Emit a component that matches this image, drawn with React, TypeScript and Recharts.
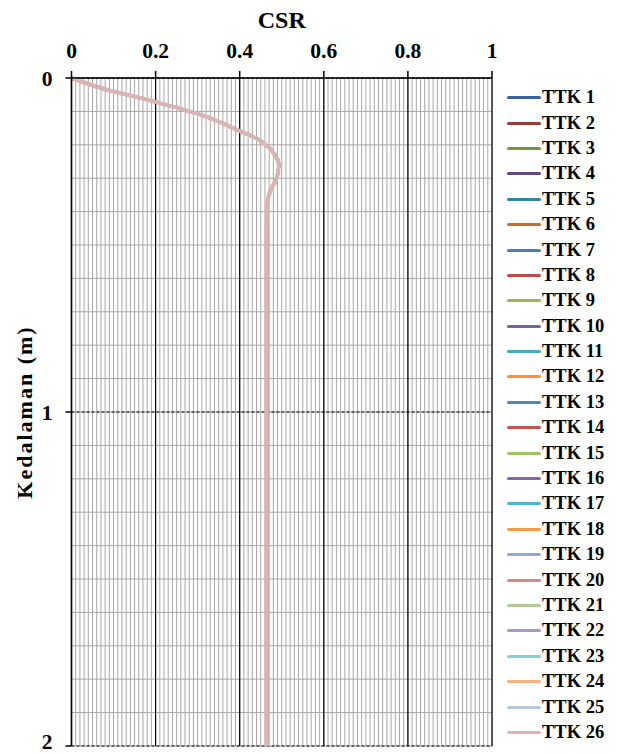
import { LineChart, Line, XAxis, YAxis, CartesianGrid, Label } from 'recharts';

// depth (m) and CSR
const depths = [0, 0.03, 0.07, 0.12, 0.15, 0.19, 0.225, 0.26, 0.3, 0.34, 0.39, 0.5, 1.0, 1.5, 2.0];
const csrValues = [0, 0.07, 0.195, 0.33, 0.385, 0.452, 0.481, 0.493, 0.488, 0.472, 0.465, 0.464, 0.464, 0.464, 0.464];

const seriesNames = Array.from({ length: 26 }, (_, i) => `TTK ${i + 1}`);
const seriesColors = [
  '#3a64a0', '#9a3b39', '#77933c', '#604a7e', '#31859c', '#c0722f',
  '#4a7ebb', '#be4b48', '#98b954', '#7d60a0', '#46aac5', '#f69240',
  '#4f84c4', '#c35250', '#9fc35f', '#8467a8', '#4fb4cf', '#f79a4c',
  '#8fa9d3', '#cf8b8a', '#b4cc90', '#a897c3', '#8ecbdc', '#f7b080',
  '#bac7e3', '#dbb4b4',
];

const csrTicks = [0, 0.2, 0.4, 0.6, 0.8, 1];
const depthTicks = [0, 1, 2];
const csrMinorTicks = Array.from({ length: 101 }, (_, i) => i / 100);
const depthMinorTicks = Array.from({ length: 21 }, (_, i) => i / 10);

const data = depths.map((d, i) => ({ depth: d, csr: csrValues[i] }));

const font = '"Liberation Serif", "Times New Roman", serif';
const tickStyle = { fill: '#000', fontSize: 21.5, fontWeight: 700, fontFamily: font };

const scaleOf = (axis: any, v: number, start: number, size: number) =>
  axis && typeof axis.scale === 'function' ? axis.scale(v) : start + v * size;

export default function App() {
  return (
    <div style={{ position: 'relative', width: 609, height: 746, fontFamily: font }}>
      <LineChart
        width={609}
        height={746}
        data={data}
        layout="vertical"
        margin={{ top: 30, right: 125, bottom: 8, left: 0 }}
      >
        <CartesianGrid
          stroke="#a8a8a8"
          strokeWidth={1}
          verticalCoordinatesGenerator={({ xAxis, offset }: any) =>
            csrMinorTicks.map((v) => scaleOf(xAxis, v, offset.left, offset.width))
          }
          horizontalCoordinatesGenerator={({ yAxis, offset }: any) =>
            depthMinorTicks.map((v) => scaleOf(yAxis, v, offset.top, offset.height / 2))
          }
        />
        <XAxis
          type="number"
          orientation="top"
          domain={[0, 1]}
          ticks={csrTicks}
          height={40}
          tick={tickStyle}
          tickSize={7}
          tickMargin={13}
          axisLine={{ stroke: '#000', strokeWidth: 1.5 }}
          tickLine={{ stroke: '#000', strokeWidth: 1.5 }}
        >
          <Label
            value="CSR"
            position="top"
            offset={10}
            style={{ fill: '#000', fontSize: 24, fontWeight: 700, fontFamily: font }}
          />
        </XAxis>
        <YAxis
          type="number"
          dataKey="depth"
          domain={[0, 2]}
          ticks={depthTicks}
          width={63.5}
          tick={tickStyle}
          tickSize={6}
          tickMargin={13}
          axisLine={{ stroke: '#000', strokeWidth: 1.5 }}
          tickLine={{ stroke: '#000', strokeWidth: 1.5 }}
        >
          <Label
            value="Kedalaman (m)"
            angle={-90}
            position="insideLeft"
            offset={16}
            style={{
              fill: '#000',
              fontSize: 22,
              fontWeight: 700,
              fontFamily: font,
              letterSpacing: 2,
              textAnchor: 'middle',
            }}
          />
        </YAxis>
        <CartesianGrid horizontal={false} stroke="#000" strokeWidth={1.2} />
        <CartesianGrid vertical={false} stroke="#000" strokeWidth={1.2} strokeDasharray="3 2" />
        {seriesNames.map((name, i) => (
          <Line
            key={name}
            name={name}
            type="monotone"
            dataKey="csr"
            stroke={seriesColors[i]}
            strokeWidth={i === seriesNames.length - 1 ? 4 : 3}
            dot={false}
            isAnimationActive={false}
          />
        ))}
      </LineChart>
      <div style={{ position: 'absolute', left: 499, top: 77, width: 110 }}>
        {seriesNames.map((name, i) => (
          <div
            key={name}
            style={{ display: 'flex', alignItems: 'center', height: 25.4 }}
          >
            <span
              style={{
                display: 'inline-block',
                width: 34,
                height: 3,
                background: seriesColors[i],
                borderRadius: 1.5,
                marginRight: 1,
              }}
            />
            <span style={{ fontSize: 18.5, fontWeight: 700, color: '#000', whiteSpace: 'nowrap' }}>
              {name}
            </span>
          </div>
        ))}
      </div>
    </div>
  );
}
